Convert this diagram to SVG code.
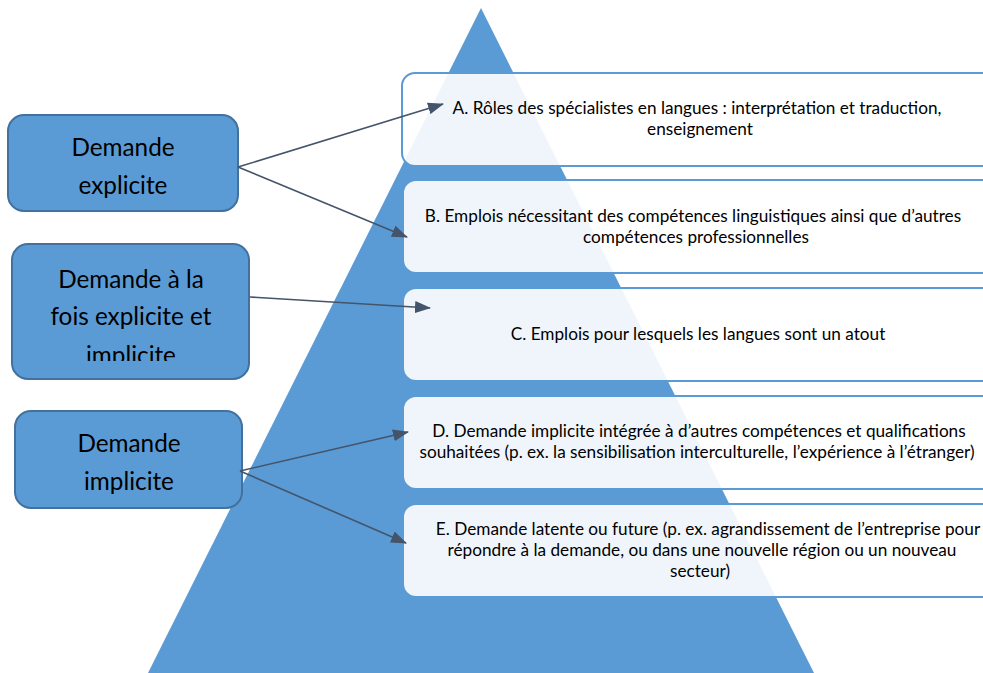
<svg xmlns="http://www.w3.org/2000/svg" width="983" height="673" viewBox="0 0 983 673">
<style>
.lvl{fill:#FFFFFF;fill-opacity:0.9;stroke:#5B9BD5;stroke-width:2}
.src{fill:#5B9BD5;stroke:#41719C;stroke-width:2}
.t{font-family:Lato,"Liberation Sans",sans-serif;font-size:17.2px;fill:#000;text-anchor:middle}
.big{font-family:Lato,"Liberation Sans",sans-serif;font-size:24.3px;fill:#000;text-anchor:middle}
.con{stroke:#44546A;stroke-width:1.6;fill:none;marker-end:url(#ah)}
</style>
<defs>
<marker id="ah" markerUnits="userSpaceOnUse" markerWidth="16" markerHeight="12" refX="15" refY="6" orient="auto">
<path d="M0,0 L16,6 L0,12 Z" fill="#44546A"/>
</marker>
<clipPath id="clip2"><rect x="0" y="230" width="260" height="131"/></clipPath>
</defs>
<rect width="983" height="673" fill="#FFFFFF"/>
<g id="pyramid"><polygon points="481,8 814,673 148,673" fill="#5B9BD5"/></g>
<g id="levelA"><rect class="lvl" x="402" y="73" width="620" height="93" rx="13"/>
<text class="t" x="697" y="114">A. Rôles des spécialistes en langues : interprétation et traduction,</text>
<text class="t" x="700" y="135">enseignement</text></g>
<g id="levelB"><rect class="lvl" x="403" y="180" width="620" height="93" rx="13"/>
<text class="t" x="693" y="222">B. Emplois nécessitant des compétences linguistiques ainsi que d’autres</text>
<text class="t" x="696" y="243">compétences professionnelles</text></g>
<g id="levelC"><rect class="lvl" x="403" y="288" width="620" height="93" rx="13"/>
<text class="t" x="698" y="340">C. Emplois pour lesquels les langues sont un atout</text></g>
<g id="levelD"><rect class="lvl" x="403" y="396" width="620" height="93" rx="13"/>
<text class="t" x="699" y="437">D. Demande implicite intégrée à d’autres compétences et qualifications</text>
<text class="t" x="697" y="458">souhaitées (p. ex. la sensibilisation interculturelle, l’expérience à l’étranger)</text></g>
<g id="levelE"><rect class="lvl" x="403" y="504" width="620" height="93" rx="13"/>
<text class="t" x="708" y="535">E. Demande latente ou future (p. ex. agrandissement de l’entreprise pour</text>
<text class="t" x="702" y="556">répondre à la demande, ou dans une nouvelle région ou un nouveau</text>
<text class="t" x="700" y="577">secteur)</text></g>
<g id="explicite"><rect class="src" x="8" y="115" width="230" height="96" rx="16"/>
<text class="big" x="123" y="156">Demande</text>
<text class="big" x="123" y="194">explicite</text></g>
<g id="mixte"><rect class="src" x="12" y="244" width="237" height="135" rx="16"/>
<g clip-path="url(#clip2)">
<text class="big" x="131" y="288">Demande à la</text>
<text class="big" x="131" y="325">fois explicite et</text>
<text class="big" x="131" y="364">implicite</text></g></g>
<g id="implicite"><rect class="src" x="15" y="411" width="227" height="97" rx="16"/>
<text class="big" x="129" y="452">Demande</text>
<text class="big" x="129" y="490">implicite</text></g>
<g id="connectors">
<line class="con" x1="238" y1="167" x2="443" y2="104"/>
<line class="con" x1="238" y1="167" x2="407" y2="237"/>
<line class="con" x1="250" y1="297" x2="430" y2="308"/>
<line class="con" x1="240" y1="471" x2="408" y2="432"/>
<line class="con" x1="240" y1="471" x2="406" y2="543"/>
</g>
</svg>
